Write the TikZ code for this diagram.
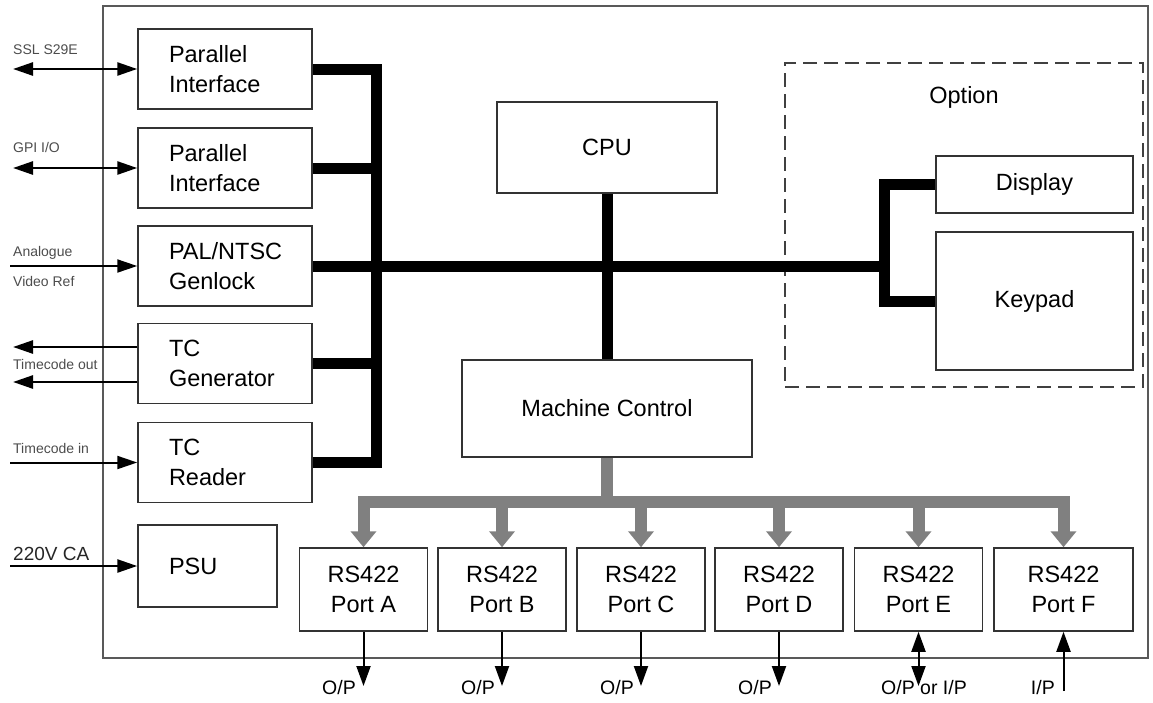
\documentclass[tikz,border=0pt]{standalone}
\usepackage{fontspec}
\setmainfont{Liberation Sans}
\usetikzlibrary{arrows.meta}
\begin{document}
\begin{tikzpicture}[x=1pt,y=-1pt,
  ltip/.tip={Triangle[length=20pt,width=13pt]},
  btip/.tip={Triangle[length=20pt,width=14pt]},
  box/.style={draw=black!80,line width=1.5pt,fill=white,inner sep=0pt,
    font=\fontsize{23.5}{30}\selectfont},
  lbox/.style={box,align=left,text width=112pt,inner xsep=31pt,minimum height=80pt},
  cbox/.style={box,align=center},
  port/.style={cbox,minimum width=128pt,minimum height=83pt},
  bus/.style={line width=11pt,black,line join=miter},
  gbus/.style={line width=12pt,black!50},
  garrow/.style={line width=12pt,black!50,-{Triangle[length=16pt,width=25pt]}},
  sig/.style={line width=2.6pt,black},
  small/.style={font=\fontsize{14}{16}\selectfont,text=black!70,inner sep=0pt,anchor=base west},
  outl/.style={font=\fontsize{19.5}{22}\selectfont,inner sep=0pt}]
\useasboundingbox (0,0) rectangle (1153,702);
\draw[black!65,line width=2pt] (103,6) rectangle (1148,658);

% option region
\node[draw=black!75,line width=1.5pt,dash pattern=on 14pt off 7pt,minimum width=358pt,minimum height=324pt,inner sep=0pt,
  label={[anchor=center,yshift=-35pt,font=\fontsize{23.5}{30}\selectfont]north:Option}] (opt) at (964,225) {};

% left column
\node[lbox] (p1) at (225,69) {Parallel\\Interface};
\node[lbox] (p2) at (225,168) {Parallel\\Interface};
\node[lbox] (gen) at (225,266) {PAL/NTSC\\Genlock};
\node[lbox] (tcg) at (225,363.5) {TC\\Generator};
\node[lbox] (tcr) at (225,462.5) {TC\\Reader};
\node[box,align=left,text width=77pt,inner xsep=31pt,minimum height=82pt] (psu) at (207.5,566) {PSU};

% centre
\node[cbox,minimum width=220pt,minimum height=91pt] (cpu) at (607,147.5) {CPU};
\node[cbox,minimum width=290pt,minimum height=97pt] (mc) at (607,408.5) {Machine Control};
\node[cbox,minimum width=197pt,minimum height=57pt] (disp) at (1034.5,184.5) {Display};
\node[cbox,minimum width=197pt,minimum height=138pt] (kp) at (1034.5,301) {Keypad};

% ports
\node[port] (pa) at (363.5,589.5) {RS422\\Port A};
\node[port] (pb) at (502,589.5) {RS422\\Port B};
\node[port] (pc) at (641,589.5) {RS422\\Port C};
\node[port] (pd) at (779,589.5) {RS422\\Port D};
\node[port] (pe) at (918.5,589.5) {RS422\\Port E};
\node[port,minimum width=139pt] (pf) at (1063.5,589.5) {RS422\\Port F};

% black bus
\coordinate (busx) at (376,0);
\coordinate (brx) at (884,0);
\draw[bus] (p1.east) -- (p1.east -| busx) -- (tcr.east -| busx) -- (tcr.east);
\draw[bus] (p2.east) -- (p2.east -| busx);
\draw[bus] (tcg.east) -- (tcg.east -| busx);
\draw[bus] (gen.east) -- (gen.east -| brx);
\draw[bus] (disp.west) -- (disp.west -| brx) -- (kp.west -| brx) -- (kp.west);
\draw[bus] (cpu.south) -- (mc.north);

% grey bus
\coordinate (gl) at (363.5,502);
\coordinate (gr) at (1063.5,502);
\draw[gbus] (mc.south) -- (mc.south |- gl);
\draw[gbus,line cap=rect] (gl) -- (gr);
\foreach \p in {pa,pb,pc,pd,pe,pf}{
  \draw[garrow] (\p.north |- gl) -- (\p.north);
}

% left signals
\coordinate (s1) at (13,69);
\coordinate (s2) at (13,168);
\coordinate (s3) at (10,266);
\coordinate (s4a) at (13,347);
\coordinate (s4b) at (13,382);
\coordinate (s5) at (10,462.5);
\coordinate (s6) at (10,566);
\draw[sig,ltip-ltip] (s1) -- (p1.west);
\draw[sig,ltip-ltip] (s2) -- (p2.west);
\draw[sig,line width=2pt,-ltip] (s3) -- (gen.west);
\draw[sig,-ltip] (s4a -| tcg.west) -- (s4a);
\draw[sig,-ltip] (s4b -| tcg.west) -- (s4b);
\draw[sig,line width=2pt,-ltip] (s5) -- (tcr.west);
\draw[sig,-ltip] (s6) -- (psu.west);

\node[small] (l1) at (13,54) {SSL S29E};
\node[small] (l2) at (13,152) {GPI I/O};
\node[small] (l3) at (13,256) {Analogue};
\node[small] (l3b) at (13,286) {Video Ref};
\node[small] (l4) at (13,369) {Timecode out};
\node[small] (l5) at (13,453) {Timecode in};
\node[small,font=\fontsize{19}{22}\selectfont,text=black!85] (l6) at (13,560) {220V CA};

% bottom outputs
\node[outl,anchor=east] (oa) at (356,688) {O/P};
\node[outl,anchor=east] (ob) at (495,688) {O/P};
\node[outl,anchor=east] (oc) at (634,688) {O/P};
\node[outl,anchor=east] (od) at (772,688) {O/P};
\node[outl] (oe) at (924,688) {O/P or I/P};
\node[outl,anchor=east] (of) at (1055,688) {I/P};
\coordinate (ya) at (0,686);
\coordinate (yf) at (0,691);
\foreach \p in {pa,pb,pc,pd}{
  \draw[line width=2pt,-btip] (\p.south) -- (\p.south |- ya);
}
\draw[line width=2pt,btip-btip] (pe.south) -- (pe.south |- ya);
\draw[line width=2pt,-btip] (pf.south |- yf) -- (pf.south);
\end{tikzpicture}
\end{document}
